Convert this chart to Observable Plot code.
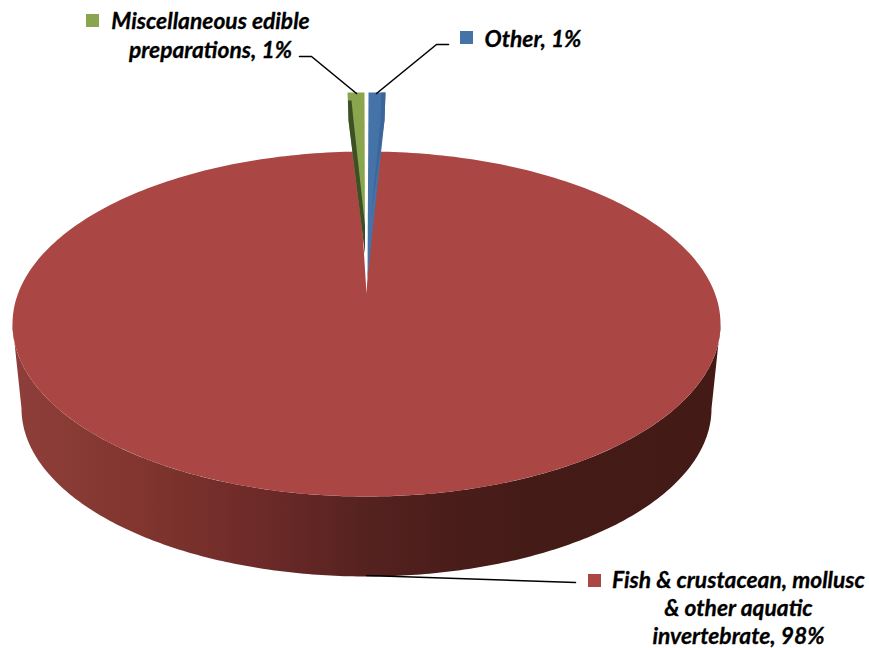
<!DOCTYPE html>
<html>
<head>
<meta charset="utf-8">
<script src="https://cdn.jsdelivr.net/npm/d3@7"></script>
<script src="https://cdn.jsdelivr.net/npm/@observablehq/plot@0.6"></script>
<style>html,body{margin:0;padding:0;background:#fff}svg{display:block}</style>
</head>
<body>
<div id="chart"></div>
<script>
// Values
const categories = ["Other", "Fish & crustacean, mollusc & other aquatic invertebrate", "Miscellaneous edible preparations"];
const shares = [1, 98, 1];
const labelLines = ["Other, 1%", "Fish & crustacean, mollusc\n& other aquatic\ninvertebrate, 98%", "Miscellaneous edible\npreparations, 1%"];
const colors = ["#4572a7", "#aa4643", "#89a54e"];
const wallColors = ["#3c659a", "#aa4643", "#3d4f25"];

// Pie geometry
const W = 869, H = 648;
const cx = 366, top3d = {cy: 323.5, rx: 354, ry: 172.5}, base3d = {cy: 408, rx: 345, ry: 168};
const notchApexY = 293;
const notchFactor = 0.4; // the notch narrows with the perspective; its edges lie behind the exploded slices
const sliceTopY = 92;
const sliceWidth = 17;
const pie = d3.pie().sort(null).value(d => d)(shares);
const ell = (e, a) => [cx + e.rx * Math.sin(a), e.cy - e.ry * Math.cos(a)];
const arcPts = (e, a0, a1, n) => d3.range(n + 1).map(i => ell(e, a0 + (a1 - a0) * i / n));

// side wall of the disc: left to right along the base, back along the top face
const sideRing = [
  ...arcPts(base3d, Math.PI * 1.5, Math.PI / 2, 240),
  ...arcPts(top3d, Math.PI / 2, Math.PI * 1.5, 240)
];

// the big slice
const redStart = pie[1].startAngle * notchFactor;
const redEnd = 2 * Math.PI - (2 * Math.PI - pie[1].endAngle) * notchFactor;
const redRing = [[cx, notchApexY], ...arcPts(top3d, redStart, redEnd, 360)];

// exploded small slices
const spanX = a => sliceWidth * Math.sin(a) / Math.sin(2 * Math.PI * shares[0] / 100);
const greenApex = [364.5, 253], blueApex = [367, 278];
const greenA = pie[2].endAngle - pie[2].startAngle, blueA = pie[0].endAngle - pie[0].startAngle;
const greenRing = [greenApex, [greenApex[0] - 16.5, 120], [greenApex[0] - spanX(greenA) - 0.5, sliceTopY],
  [greenApex[0] - 0.5, sliceTopY]];
const greenWall = [greenApex, [greenApex[0] - 16.5, 120], [greenApex[0] - 17, 100], [greenApex[0] - 13.5, 100],
  [greenApex[0] - 11.5, 120], [greenApex[0], 225]];
const blueRing = [blueApex, [blueApex[0] + 1, sliceTopY], [blueApex[0] + 1 + spanX(blueA), sliceTopY],
  [blueApex[0] + 17, 120]];
const blueWall = [[blueApex[0] + 4, 212], [blueApex[0] + 13, 120], [blueApex[0] + 14, sliceTopY],
  [blueApex[0] + 1 + spanX(blueA), sliceTopY], [blueApex[0] + 17, 120]];

const polys = [
  {k: "red", c: colors[1], pts: redRing},
  {k: "green", c: colors[2], pts: greenRing},
  {k: "greenWall", c: wallColors[2], pts: greenWall},
  {k: "blue", c: colors[0], pts: blueRing},
  {k: "blueWall", c: wallColors[0], pts: blueWall}
].flatMap(p => [...p.pts, p.pts[0]].map(q => ({k: p.k, c: p.c, x: q[0], y: q[1]})));

// Leaders and labels
const leaders = [
  {k: "g", pts: [[299, 56], [311, 56], [356, 93]]},
  {k: "b", pts: [[448, 44], [436, 44], [376, 93]]},
  {k: "r", pts: [[366, 575], [575, 582]]}
].flatMap(l => l.pts.map(q => ({k: l.k, x: q[0], y: q[1]})));
const labels = [
  {t: labelLines[2], x: 210, y: 57, lh: 1.24, c: colors[2], sx: 86, sy: 14},
  {t: labelLines[0], x: 532.5, y: 46, lh: 1.24, c: colors[0], sx: 460, sy: 31},
  {t: labelLines[1], x: 738, y: 643, lh: 1.22, c: colors[1], sx: 588, sy: 574}
];

const stops = [[20, "#8e3e3a"], [130, "#82362f"], [250, "#6f2b29"], [366, "#552220"], [450, "#4a1d1a"], [520, "#451b18"], [710, "#441a17"]];
const gradient = () => {
  const defs = d3.create("svg:defs");
  const g = defs.append("linearGradient").attr("id", "sideGrad").attr("gradientUnits", "userSpaceOnUse")
    .attr("x1", 0).attr("x2", W).attr("y1", 0).attr("y2", 0);
  stops.forEach(([x, c]) => g.append("stop").attr("offset", x / W).attr("stop-color", c));
  return defs.node();
};

const plot = Plot.plot({
  width: W, height: H, margin: 0,
  x: {domain: [0, W], range: [0, W], axis: null},
  y: {domain: [0, H], range: [0, H], axis: null},
  style: {background: "#fff"},
  marks: [
    gradient,
    Plot.line(sideRing, {x: d => d[0], y: d => d[1], fill: "url(#sideGrad)", stroke: "none", curve: "linear"}),
    Plot.line(polys, {x: "x", y: "y", z: "k", fill: "c", stroke: "none", curve: "linear"}),
    Plot.line(leaders, {x: "x", y: "y", z: "k", stroke: "#000", strokeWidth: 1.6, curve: "linear"}),
    Plot.rect(labels, {x1: "sx", x2: d => d.sx + 13, y1: "sy", y2: d => d.sy + 13, fill: "c"}),
    ...labels.map(l => Plot.text([l], {
      x: "x", y: "y", text: "t", lineAnchor: "bottom", textAnchor: "middle", lineHeight: l.lh,
      fontFamily: "Lato", fontStyle: "italic", fontWeight: 700, fontSize: 22.8, fill: "#000",
      stroke: "#000", strokeWidth: 0.3
    }))
  ]
});
document.getElementById("chart").append(plot);
</script>
</body>
</html>
